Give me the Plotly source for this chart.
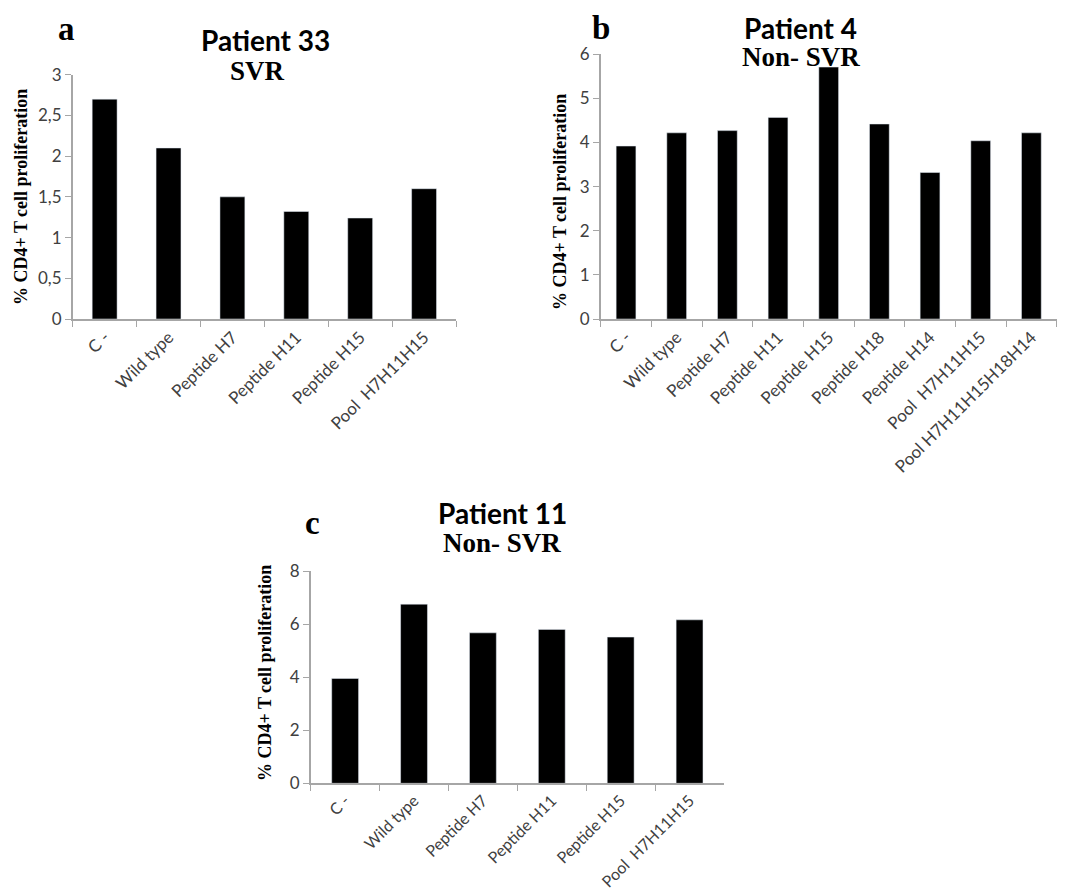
import plotly.graph_objects as go

# page body has an 8px margin; figure reaches the bottom edge of the 1072x892 window
OFF = 8
W, H = 1072 - 2 * OFF, 892 - OFF

cats_a = ["C -", "Wild type", "Peptide H7", "Peptide H11", "Peptide H15", "Pool  H7H11H15"]
vals_a = [2.70, 2.10, 1.50, 1.32, 1.24, 1.60]

cats_b = ["C -", "Wild type", "Peptide H7", "Peptide H11", "Peptide H15", "Peptide H18",
          "Peptide H14", "Pool  H7H11H15", "Pool H7H11H15H18H14"]
vals_b = [3.92, 4.22, 4.27, 4.57, 5.71, 4.42, 3.32, 4.04, 4.22]

cats_c = ["C -", "Wild type", "Peptide H7", "Peptide H11", "Peptide H15", "Pool  H7H11H15"]
vals_c = [3.95, 6.75, 5.67, 5.80, 5.51, 6.16]

ticks_a = [0, 0.5, 1, 1.5, 2, 2.5, 3]
ticklabels_a = ["0", "0,5", "1", "1,5", "2", "2,5", "3"]
ticks_b = [0, 1, 2, 3, 4, 5, 6]
ticks_c = [0, 2, 4, 6, 8]

ytitle = "% CD4+ T cell proliferation"

def px(x):
    return (x - OFF) / W

def py(y):
    return 1 - (y - OFF) / H

fig = go.Figure()
fig.add_trace(go.Bar(x=cats_a, y=vals_a, marker_color="black", xaxis="x", yaxis="y", width=0.39))
fig.add_trace(go.Bar(x=cats_b, y=vals_b, marker_color="black", xaxis="x2", yaxis="y2", width=0.39))
fig.add_trace(go.Bar(x=cats_c, y=vals_c, marker_color="black", xaxis="x3", yaxis="y3", width=0.39))

def tfont(size):
    return dict(family="Lato, Open Sans, sans-serif", size=size, color="#404040")

axcol = "#a6a6a6"

def xax(dom, anchor, size=17):
    return dict(domain=dom, anchor=anchor, type="category", tickangle=-45, tickfont=tfont(size),
                showline=True, linecolor=axcol, linewidth=1.5, ticks="outside", tickcolor=axcol,
                ticklen=6, tickson="boundaries", showgrid=False, zeroline=False, fixedrange=True,
                automargin=False)

def yax(dom, anchor, rng, tv, tt=None):
    d = dict(domain=dom, anchor=anchor, range=rng, tickvals=tv, tickfont=tfont(17),
             showline=True, linecolor=axcol, linewidth=1.5, ticks="outside", tickcolor=axcol,
             ticklen=6, showgrid=False, zeroline=False, fixedrange=True, automargin=False)
    if tt is not None:
        d["ticktext"] = tt
    return d

fig.update_layout(
    width=W, height=H, margin=dict(l=0, r=0, t=0, b=0, autoexpand=False),
    paper_bgcolor="white", plot_bgcolor="white", showlegend=False,
    xaxis=xax([px(72.7), px(456)], "y"),
    yaxis=yax([py(319), py(74.7)], "x", [0, 3], ticks_a, ticklabels_a),
    xaxis2=xax([px(600.7), px(1056.7)], "y2"),
    yaxis2=yax([py(319), py(54.3)], "x2", [0, 6], ticks_b),
    xaxis3=xax([px(310.7), px(724)], "y3", 16),
    yaxis3=yax([py(783.3), py(571)], "x3", [0, 8], ticks_c),
)

ann = []
def text(x, y, s, font, angle=0):
    ann.append(dict(x=px(x), y=py(y), xref="paper", yref="paper", text=s, showarrow=False,
                    xanchor="center", yanchor="middle", font=font, textangle=angle))

title_font = dict(family="Lato, sans-serif", size=28, color="black", weight="bold")
sub_font = dict(family="Liberation Serif, Times New Roman, serif", size=27, color="black", weight="bold")
letter_font = dict(family="Liberation Serif, Times New Roman, serif", size=33, color="black", weight="bold")
ytitle_font = dict(family="Liberation Serif, Times New Roman, serif", size=18, color="black", weight="bold")

# panel a
text(66, 29, "a", letter_font)
text(265, 40, "Patient 33", title_font)
text(257, 71, "SVR", sub_font)
text(21, 197, ytitle, ytitle_font, -90)
# panel b
text(601, 28, "b", letter_font)
text(800, 28, "Patient 4", title_font)
text(801, 57, "Non- SVR", sub_font)
text(560, 202, ytitle, ytitle_font, -90)
# panel c
text(312, 523, "c", letter_font)
text(502, 513, "Patient 11", title_font)
text(502, 543, "Non- SVR", sub_font)
text(265, 673, ytitle, ytitle_font, -90)

fig.update_layout(annotations=ann)
fig.write_html("out.html")
